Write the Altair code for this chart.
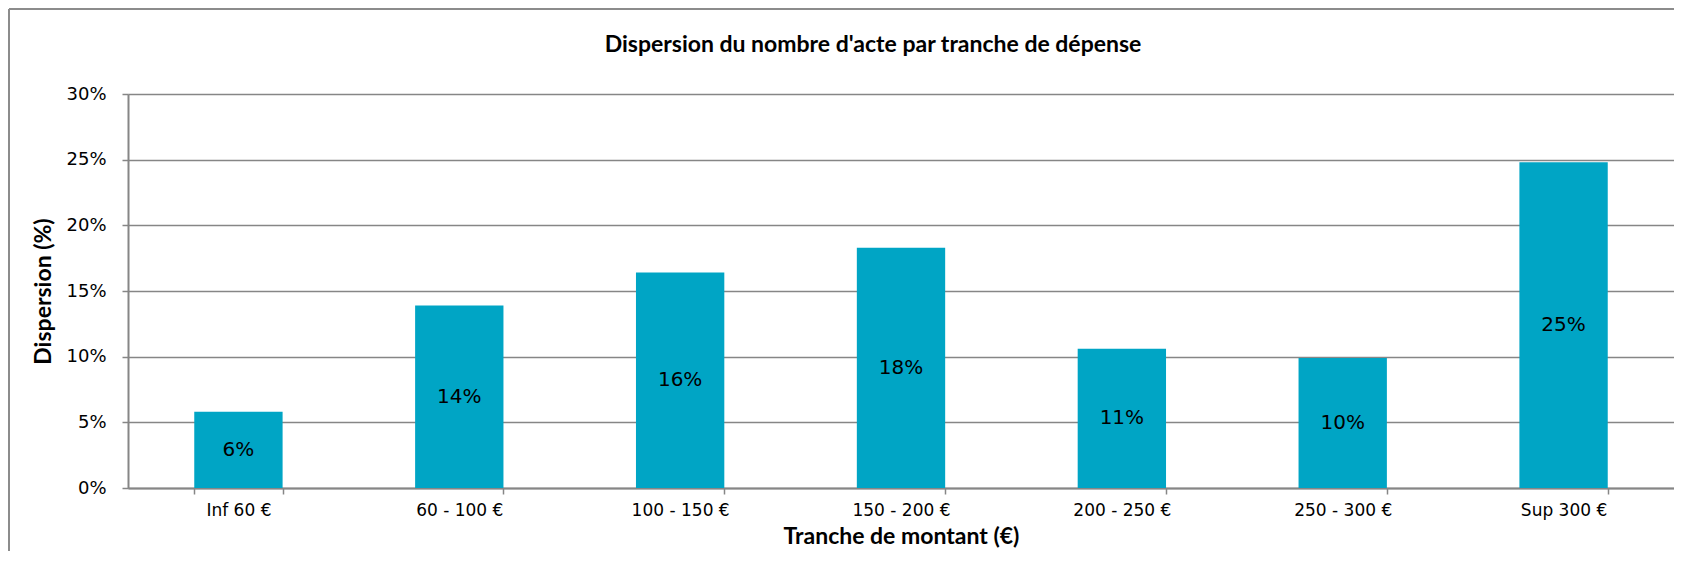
import altair as alt
import pandas as pd

categories = ["Inf 60 €", "60 - 100 €", "100 - 150 €", "150 - 200 €",
              "200 - 250 €", "250 - 300 €", "Sup 300 €"]
values = [0.058, 0.139, 0.164, 0.183, 0.106, 0.099, 0.248]
y_ticks = [0, 0.05, 0.10, 0.15, 0.20, 0.25, 0.30]

title_text = "Dispersion du nombre d'acte par tranche de dépense"
x_title = "Tranche de montant (€)"
y_title = "Dispersion (%)"

W, H = 1546, 394
GRAY = "#868686"
BAR = "#00A5C5"

df = pd.DataFrame({"cat": categories, "val": values})
df["half"] = df["val"] / 2

x_enc = alt.X(
    "cat:N", sort=categories,
    scale=alt.Scale(paddingInner=0.6, paddingOuter=0.3),
    axis=alt.Axis(
        title=x_title, titleFont="Lato", titleFontSize=23, titleFontWeight="bold",
        titleColor="#000000", titleX=W / 2, titleY=55.5, titleBaseline="alphabetic",
        labelFont="DejaVu Sans", labelFontSize=17, labelColor="#000000",
        labelPadding=8, labelAngle=0,
        tickBand="extent", tickSize=6, tickColor=GRAY, tickWidth=1.5,
        domainColor=GRAY, domainWidth=2, grid=False,
    ),
)

bars = alt.Chart(df).mark_bar(color=BAR).encode(
    x=x_enc,
    y=alt.Y(
        "val:Q",
        scale=alt.Scale(domain=[0, 0.3], nice=False),
        axis=alt.Axis(
            values=y_ticks, format=".0%",
            title=y_title, titleFont="Lato", titleFontSize=23, titleFontWeight="bold",
            titleColor="#000000", titleX=-85, titleY=H / 2, titleBaseline="middle",
            titleAngle=270,
            labelFont="DejaVu Sans", labelFontSize=18, labelColor="#000000",
            labelPadding=16,
            tickSize=6, tickColor=GRAY, tickWidth=1.5,
            domainColor=GRAY, domainWidth=2,
            grid=True, gridColor=GRAY, gridWidth=1.3,
        ),
    ),
)

labels = alt.Chart(df).mark_text(
    font="DejaVu Sans", fontSize=20, color="#000000", baseline="middle"
).encode(
    x=alt.X("cat:N", sort=categories),
    y=alt.Y("half:Q"),
    text=alt.Text("val:Q", format=".0%"),
)

title_df = pd.DataFrame({"t": [title_text]})
title = alt.Chart(title_df).mark_text(
    font="Lato", fontSize=23, fontWeight="bold", color="#000000",
    baseline="middle", align="center"
).encode(x=alt.value(745), y=alt.value(-49), text="t:N")

frame_left = alt.Chart(title_df).mark_rule(color="#8c8c8c", strokeWidth=2).encode(
    x=alt.value(-119), y=alt.value(-85), y2=alt.value(H + 63)
)
frame_top = alt.Chart(title_df).mark_rule(color="#8c8c8c", strokeWidth=2).encode(
    x=alt.value(-119), x2=alt.value(W), y=alt.value(-85)
)

chart = alt.layer(bars, labels, title, frame_left, frame_top).properties(
    width=W, height=H,
    autosize=alt.AutoSizeParams(type="none"),
    padding={"left": 120, "top": 86, "right": 0, "bottom": 63},
).configure_view(stroke=None).configure(background="white")

chart.save("out.html", embed_options={"renderer": "svg", "actions": False})
